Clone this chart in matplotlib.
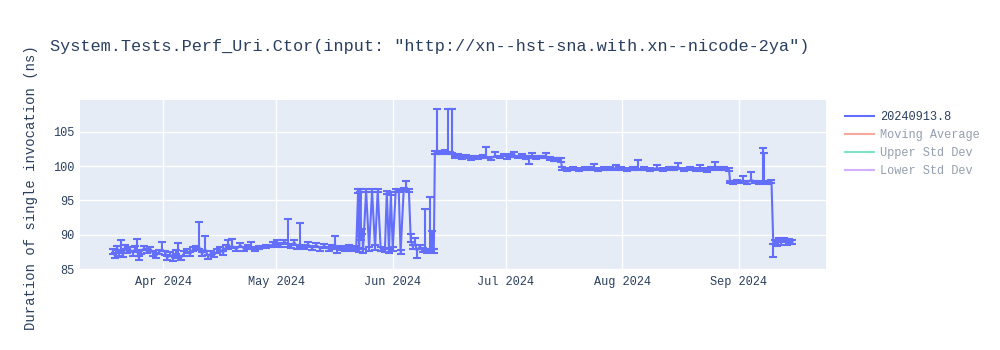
import matplotlib
matplotlib.use('Agg')
import matplotlib.pyplot as plt
import matplotlib.dates as mdates
from matplotlib.lines import Line2D
import pandas as pd

MONO = ['Liberation Mono', 'DejaVu Sans Mono']
TEXT_COLOR = '#2a3f5f'

title = 'System.Tests.Perf_Uri.Ctor(input: "http://xn--hst-sna.with.xn--nicode-2ya")'
y_label = 'Duration of single invocation (ns)'
series_name = '20240913.8'
hidden_names = ['Moving Average', 'Upper Std Dev', 'Lower Std Dev']
hidden_colors = ['#EF553B', '#00cc96', '#ab63fa']

run_dates = [
    # march - may
    "2024-03-18 14:00", "2024-03-19 02:00", "2024-03-19 17:00", "2024-03-20 05:00", "2024-03-20 17:00",
    "2024-03-21 05:00", "2024-03-21 19:00", "2024-03-22 07:00", "2024-03-23 02:00", "2024-03-23 22:00",
    "2024-03-24 12:00", "2024-03-25 00:00", "2024-03-25 12:00", "2024-03-26 02:00", "2024-03-26 22:00",
    "2024-03-27 17:00", "2024-03-28 12:00", "2024-03-29 07:00", "2024-03-30 02:00", "2024-03-30 22:00",
    "2024-03-31 17:00", "2024-04-01 12:00", "2024-04-02 00:00", "2024-04-02 19:00", "2024-04-03 14:00",
    "2024-04-04 10:00", "2024-04-04 22:00", "2024-04-05 17:00", "2024-04-06 12:00", "2024-04-07 07:00",
    "2024-04-08 02:00", "2024-04-08 22:00", "2024-04-09 17:00", "2024-04-10 12:00", "2024-04-11 07:00",
    "2024-04-12 02:00", "2024-04-12 22:00", "2024-04-13 17:00", "2024-04-14 12:00", "2024-04-15 07:00",
    "2024-04-16 02:00", "2024-04-16 22:00", "2024-04-17 17:00", "2024-04-18 07:00", "2024-04-19 07:00",
    "2024-04-20 10:00", "2024-04-21 10:00", "2024-04-22 12:00", "2024-04-23 14:00", "2024-04-24 10:00",
    "2024-04-25 12:00", "2024-04-26 12:00", "2024-04-28 10:00", "2024-04-30 05:00", "2024-05-01 07:00",
    "2024-05-02 02:00", "2024-05-03 05:00", "2024-05-04 05:00", "2024-05-05 00:00", "2024-05-05 19:00",
    "2024-05-06 14:00", "2024-05-07 10:00", "2024-05-08 12:00", "2024-05-09 12:00", "2024-05-10 14:00",
    "2024-05-11 17:00", "2024-05-12 17:00", "2024-05-13 19:00", "2024-05-14 22:00", "2024-05-15 22:00",
    "2024-05-16 17:00", "2024-05-17 07:00", "2024-05-18 07:00", "2024-05-19 10:00", "2024-05-20 10:00",
    "2024-05-21 12:00", "2024-05-22 07:00",
    # noisy runs end of may / june
    "2024-05-22 19:00", "2024-05-23 02:00", "2024-05-23 10:00", "2024-05-23 14:00", "2024-05-23 22:00",
    "2024-05-24 02:00", "2024-05-24 22:00", "2024-05-25 17:00", "2024-05-26 12:00", "2024-05-27 07:00",
    "2024-05-28 00:00", "2024-05-28 19:00", "2024-05-29 22:00", "2024-05-30 10:00", "2024-05-31 00:00",
    "2024-05-31 12:00", "2024-06-01 00:00", "2024-06-01 19:00", "2024-06-02 14:00", "2024-06-03 02:00",
    "2024-06-03 22:00", "2024-06-04 12:00", "2024-06-05 07:00", "2024-06-05 19:00", "2024-06-06 07:00",
    "2024-06-06 22:00", "2024-06-07 10:00", "2024-06-08 05:00", "2024-06-09 00:00", "2024-06-09 12:00",
    "2024-06-10 02:00", "2024-06-10 22:00", "2024-06-11 10:00", "2024-06-11 22:00", "2024-06-12 05:00",
    "2024-06-12 19:00", "2024-06-13 19:00", "2024-06-14 22:00", "2024-06-15 17:00", "2024-06-16 05:00",
    "2024-06-16 19:00", "2024-06-17 14:00", "2024-06-18 10:00",
    # june - july
    "2024-06-19 12:00", "2024-06-20 14:00", "2024-06-21 17:00", "2024-06-22 17:00", "2024-06-23 19:00",
    "2024-06-24 22:00", "2024-06-25 22:00", "2024-06-27 00:00", "2024-06-28 07:00", "2024-06-29 10:00",
    "2024-06-30 12:00", "2024-07-01 12:00", "2024-07-02 10:00", "2024-07-03 05:00", "2024-07-04 05:00",
    "2024-07-05 07:00", "2024-07-06 10:00", "2024-07-07 05:00", "2024-07-08 00:00", "2024-07-09 00:00",
    "2024-07-10 10:00", "2024-07-11 17:00", "2024-07-12 19:00", "2024-07-13 19:00", "2024-07-14 22:00",
    "2024-07-15 17:00", "2024-07-16 00:00",
    # july - august
    "2024-07-17 07:00", "2024-07-18 22:00", "2024-07-20 12:00", "2024-07-22 02:00", "2024-07-23 17:00",
    "2024-07-24 12:00", "2024-07-25 14:00", "2024-07-27 05:00", "2024-07-28 19:00", "2024-07-30 10:00",
    "2024-07-31 17:00", "2024-08-02 07:00", "2024-08-03 22:00", "2024-08-05 07:00", "2024-08-06 22:00",
    "2024-08-08 12:00", "2024-08-10 07:00", "2024-08-11 22:00", "2024-08-13 12:00", "2024-08-14 19:00",
    "2024-08-15 22:00", "2024-08-17 12:00", "2024-08-19 02:00", "2024-08-20 17:00", "2024-08-21 17:00",
    "2024-08-22 19:00", "2024-08-23 14:00", "2024-08-24 17:00", "2024-08-25 17:00", "2024-08-26 19:00",
    "2024-08-28 02:00", "2024-08-29 10:00", "2024-08-29 17:00",
    # september
    "2024-08-30 12:00", "2024-08-31 14:00", "2024-09-01 10:00", "2024-09-02 05:00", "2024-09-03 07:00",
    "2024-09-04 07:00", "2024-09-05 10:00", "2024-09-06 12:00", "2024-09-07 12:00", "2024-09-07 19:00",
    "2024-09-08 14:00", "2024-09-09 17:00", "2024-09-10 05:00",
    "2024-09-10 17:00", "2024-09-11 07:00", "2024-09-11 19:00", "2024-09-12 07:00", "2024-09-12 22:00",
    "2024-09-13 17:00", "2024-09-14 12:00", "2024-09-15 07:00",
]

duration_ns = [
    87.6, 87.0, 88.1, 87.3, 87.9,
    87.1, 88.2, 87.6, 87.9, 87.4,
    88.0, 87.8, 86.6, 87.5, 88.1,
    87.6, 88.0, 87.3, 87.0, 87.5,
    87.9, 87.4, 86.6, 87.2, 86.5,
    87.5, 87.0, 86.7, 87.3, 87.7,
    87.2, 87.9, 88.1, 88.3, 87.2,
    88.0, 86.8, 87.4, 87.1, 87.6,
    87.9, 87.4, 88.3, 88.2, 88.4,
    87.9, 88.5, 88.0, 88.3, 88.2,
    88.0, 88.2, 88.3, 88.6, 88.9,
    88.5, 89.0, 88.6, 88.4, 88.9,
    88.3, 88.5, 88.2, 88.6, 88.1,
    88.5, 88.0, 88.4, 88.0, 88.3,
    88.6, 87.8, 88.1, 87.9, 88.2,
    88.0, 88.1,
    96.3, 87.8, 96.4, 89.5, 90.5,
    87.7, 96.4, 88.0, 96.4, 88.1,
    96.4, 88.0, 87.8, 96.2, 87.6,
    96.0, 88.0, 96.5, 96.5, 87.5,
    96.6, 96.8, 96.4, 89.2, 88.3,
    88.8, 87.7, 88.3, 87.8, 88.0,
    87.7, 88.0, 88.2, 87.7, 102.0,
    102.0, 102.0, 102.1, 102.0, 101.9,
    102.1, 101.3, 101.5,
    101.2, 101.4, 101.1, 101.3, 101.2,
    101.4, 101.3, 101.1, 101.5, 101.3,
    101.6, 101.2, 101.5, 101.6, 101.3,
    101.5, 101.2, 101.3, 101.4, 101.2,
    101.3, 101.4, 101.1, 101.0, 101.0,
    100.9, 99.7,
    99.5, 99.6, 99.5, 99.7, 99.6,
    99.8, 99.5, 99.7, 99.6, 99.7,
    99.6, 99.5, 99.7, 99.6, 99.6,
    99.5, 99.7, 99.5, 99.6, 99.7,
    99.8, 99.5, 99.6, 99.5, 99.7,
    99.5, 99.4, 99.6, 99.8, 99.6,
    99.6, 99.5, 97.7,
    97.6, 97.8, 97.7, 97.9, 97.6,
    98.0, 97.7, 97.6, 97.9, 97.7,
    97.6, 97.8, 88.4,
    89.0, 88.7, 89.2, 88.9, 89.3,
    88.9, 89.1, 89.0,
]

err_plus = [
    0.3, 0.4, 0.3, 0.3, 1.3,
    0.3, 0.3, 0.4, 0.3, 0.3,
    0.4, 1.55, 0.3, 0.3, 0.3,
    0.3, 0.3, 0.3, 0.4, 0.3,
    1.0, 0.3, 0.4, 0.3, 0.4,
    0.3, 1.8, 0.3, 0.3, 0.3,
    0.3, 0.3, 0.3, 3.6, 0.3,
    1.9, 0.3, 0.3, 0.3, 0.3,
    0.3, 0.3, 0.3, 1.1, 0.95,
    0.3, 0.3, 0.3, 0.3, 0.7,
    0.3, 0.2, 0.2, 0.3, 0.3,
    0.3, 0.3, 3.65, 0.3, 0.3,
    0.3, 3.3, 0.3, 0.3, 0.3,
    0.3, 0.3, 0.3, 0.3, 0.3,
    1.3, 0.3, 0.3, 0.3, 0.3,
    0.3, 0.3,
    0.3, 0.3, 0.2, 0.3, 0.3,
    0.3, 0.2, 0.3, 0.2, 0.4,
    0.2, 0.3, 0.3, 0.2, 0.3,
    0.2, 0.3, 0.2, 0.2, 0.3,
    0.2, 1.0, 0.2, 0.9, 0.3,
    0.8, 0.3, 0.3, 0.3, 5.8,
    0.3, 7.5, 2.4, 0.3, 0.2,
    6.3, 0.2, 0.2, 6.3, 0.2,
    6.2, 0.2, 0.2,
    0.2, 0.2, 0.2, 0.2, 0.2,
    0.2, 1.4, 0.2, 0.55, 0.2,
    0.2, 0.2, 0.2, 0.4, 0.2,
    0.2, 0.2, 0.2, 0.5, 0.2,
    0.2, 0.5, 0.2, 0.2, 0.2,
    0.2, 0.2,
    0.2, 0.2, 0.2, 0.2, 0.2,
    0.55, 0.2, 0.2, 0.2, 0.4,
    0.2, 0.2, 0.2, 1.25, 0.2,
    0.2, 0.5, 0.2, 0.2, 0.2,
    0.65, 0.2, 0.2, 0.2, 0.4,
    0.2, 0.2, 0.2, 0.75, 0.2,
    0.2, 0.2, 0.2,
    0.2, 0.2, 0.2, 0.6, 0.2,
    1.15, 0.2, 0.2, 4.7, 4.2,
    0.2, 0.2, 0.3,
    0.3, 0.3, 0.3, 0.3, 0.3,
    0.3, 0.3, 0.3,
]

err_minus = [
    0.4, 0.3, 0.3, 0.3, 0.3,
    0.3, 0.3, 0.3, 0.3, 0.4,
    0.3, 0.3, 0.3, 0.3, 0.3,
    0.3, 0.3, 0.3, 0.3, 0.3,
    0.3, 0.3, 0.3, 0.3, 0.3,
    0.3, 0.3, 0.3, 0.3, 0.3,
    0.3, 0.3, 0.3, 0.3, 0.3,
    0.3, 0.3, 0.3, 0.3, 0.3,
    0.3, 0.3, 0.3, 0.3, 0.3,
    0.3, 0.3, 0.3, 0.3, 0.3,
    0.3, 0.2, 0.2, 0.3, 0.3,
    0.3, 0.3, 0.3, 0.3, 0.3,
    0.3, 0.3, 0.3, 0.3, 0.3,
    0.3, 0.3, 0.3, 0.3, 0.3,
    0.3, 0.5, 0.3, 0.3, 0.3,
    0.3, 0.3,
    0.2, 0.3, 0.2, 0.3, 0.3,
    0.3, 0.2, 0.3, 0.2, 0.3,
    0.2, 0.3, 0.3, 0.2, 0.3,
    0.2, 0.3, 0.2, 0.2, 0.3,
    0.2, 0.2, 0.2, 0.3, 0.3,
    0.3, 1.0, 0.3, 0.3, 0.3,
    0.3, 0.3, 0.3, 0.3, 0.2,
    0.2, 0.2, 0.2, 0.2, 0.2,
    0.2, 0.2, 0.2,
    0.2, 0.2, 0.2, 0.2, 0.2,
    0.2, 0.2, 0.2, 0.2, 0.2,
    0.2, 0.2, 0.2, 0.2, 0.2,
    0.2, 0.2, 1.0, 0.2, 0.2,
    0.2, 0.2, 0.2, 0.2, 0.2,
    0.35, 0.2,
    0.2, 0.2, 0.2, 0.2, 0.2,
    0.2, 0.2, 0.2, 0.2, 0.2,
    0.2, 0.2, 0.2, 0.2, 0.2,
    0.2, 0.2, 0.2, 0.2, 0.2,
    0.2, 0.2, 0.2, 0.2, 0.2,
    0.2, 0.3, 0.2, 0.2, 0.2,
    0.2, 0.2, 0.2,
    0.2, 0.2, 0.2, 0.2, 0.2,
    0.2, 0.2, 0.2, 0.2, 0.2,
    0.2, 0.2, 1.55,
    0.3, 0.3, 0.3, 0.3, 0.3,
    0.3, 0.3, 0.3,
]

x = pd.to_datetime(run_dates)

fig = plt.figure(figsize=(10, 3.5), dpi=100)
ax = fig.add_axes([0.08, 0.2286, 0.746, 0.4857])
ax.set_facecolor('#E5ECF6')
for s in ax.spines.values():
    s.set_visible(False)
ax.grid(color='white', lw=1)
ax.set_axisbelow(True)

ax.errorbar(x, duration_ns, yerr=[err_minus, err_plus], color='#636efa',
            lw=1.5, elinewidth=1.5, capsize=3, capthick=1.5)

ax.set_ylim(84.9, 109.6)
ax.set_yticks([85, 90, 95, 100, 105])
ax.set_xlim(pd.Timestamp('2024-03-09 20:00'), pd.Timestamp('2024-09-24 05:00'))
ax.xaxis.set_major_locator(mdates.MonthLocator())
ax.xaxis.set_major_formatter(mdates.DateFormatter('%b %Y'))
ax.tick_params(length=0, labelsize=8.6, labelcolor=TEXT_COLOR, pad=4)
for lab in ax.get_xticklabels() + ax.get_yticklabels():
    lab.set_family(MONO)

fig.text(0.05, 1 - 46 / 350, title, fontsize=12.2, family=MONO,
         color=TEXT_COLOR, va='center', ha='left')
fig.text(0.031, 1 - 188 / 350, y_label, fontsize=10, family=MONO,
         color=TEXT_COLOR, rotation=90, va='center', ha='center')

handles = [Line2D([], [], color='#636efa', lw=1.5)]
handles += [Line2D([], [], color=c, lw=1.5, alpha=0.5) for c in hidden_colors]
leg = fig.legend(handles, [series_name] + hidden_names, loc='upper left',
                 bbox_to_anchor=(0.845, 1 - 111 / 350), frameon=False,
                 prop={'family': MONO, 'size': 8.6}, handlelength=2.4,
                 handletextpad=0.5, labelspacing=0.5, borderpad=0, borderaxespad=0)
for i, t in enumerate(leg.get_texts()):
    t.set_color(TEXT_COLOR)
    if i > 0:
        t.set_alpha(0.5)

plt.savefig('out.png', dpi=100)
